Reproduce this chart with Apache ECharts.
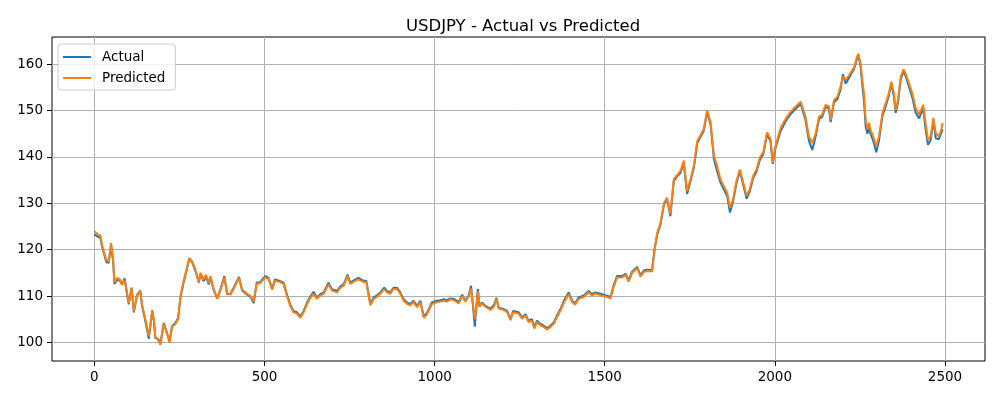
<!DOCTYPE html>
<html>
<head>
<meta charset="utf-8">
<script src="https://cdn.jsdelivr.net/npm/echarts@6/dist/echarts.min.js"></script>
<style>html,body{margin:0;padding:0;background:#fff}#c{width:1000px;height:400px}</style>
</head>
<body>
<div id="c"></div>
<script>
const steps = [0,10,18,22,35,42,49,55,59,67,76,81,89,96,101,109,116,125,135,140,150,160,170,175,179,189,194,204,214,221,228,238,246,253,263,273,279,287,297,307,312,321,328,336,341,351,361,371,382,390,400,410,425,434,449,459,468,477,487,502,512,522,531,546,556,566,576,585,595,605,615,625,634,644,654,664,674,688,698,713,723,733,744,752,767,776,791,799,811,821,830,840,852,860,870,879,889,899,909,919,928,938,948,958,968,977,992,1007,1017,1027,1036,1046,1056,1071,1081,1090,1100,1107,1113,1118,1123,1127,1132,1139,1149,1164,1174,1182,1188,1203,1213,1223,1231,1247,1257,1267,1276,1286,1293,1301,1311,1321,1330,1340,1350,1360,1370,1380,1394,1404,1413,1423,1438,1453,1462,1472,1487,1502,1517,1526,1536,1551,1561,1570,1580,1595,1605,1615,1625,1639,1646,1654,1664,1674,1683,1693,1703,1715,1723,1732,1742,1752,1762,1772,1781,1791,1801,1811,1821,1830,1840,1850,1860,1868,1877,1887,1897,1907,1917,1926,1936,1946,1956,1966,1977,1987,1994,2002,2017,2027,2036,2046,2056,2066,2076,2081,2090,2100,2110,2120,2130,2139,2149,2159,2164,2174,2184,2193,2200,2208,2218,2225,2233,2240,2245,2252,2257,2262,2267,2272,2277,2281,2289,2298,2306,2316,2326,2335,2342,2350,2355,2362,2370,2378,2384,2394,2404,2414,2424,2436,2443,2450,2458,2466,2473,2482,2489,2493];

const predicted = [124.0,123.3,123.0,121.0,117.8,117.5,121.4,117.8,113.0,113.9,113.5,112.4,113.5,110.6,108.5,111.7,106.7,110.0,111.0,108.1,104.9,101.3,107.0,104.9,101.3,100.3,99.5,104.0,102.0,99.9,103.3,104.0,105.0,110.0,113.5,116.4,118.2,117.5,115.7,112.8,115.0,113.5,114.6,112.8,114.3,111.4,109.4,111.4,114.0,110.6,110.3,111.7,113.9,111.4,110.5,110.0,108.8,112.6,112.8,114.0,113.7,111.4,113.3,113.0,112.6,110.0,107.8,106.5,106.2,105.3,106.5,108.3,109.5,110.5,109.4,110.1,110.5,112.5,111.2,110.8,111.8,112.3,114.3,112.6,113.3,113.6,113.0,113.0,108.0,109.4,109.8,110.5,111.5,110.8,110.5,111.5,111.5,110.5,109.0,108.3,108.0,108.7,107.6,108.7,105.3,106.0,108.3,108.7,108.8,109.0,108.8,109.3,109.1,108.4,110.0,108.8,109.9,111.6,108.0,105.0,107.7,111.0,107.9,108.4,107.7,107.0,107.7,109.3,107.3,107.0,106.5,104.8,106.5,106.2,105.1,105.8,104.4,104.7,103.0,104.4,103.7,103.3,102.8,103.3,104.0,105.5,106.9,108.6,110.4,108.7,108.1,109.4,109.8,110.8,110.1,110.5,110.2,109.9,109.5,112.0,114.0,114.0,114.5,113.1,114.9,116.0,114.2,115.2,115.4,115.3,119.5,123.6,125.8,130.0,131.2,127.6,135.2,136.3,137.0,139.2,132.6,135.2,138.1,143.5,144.6,146.0,150.0,147.5,140.2,138.1,135.2,133.7,132.3,129.0,130.8,134.8,137.3,134.5,131.6,133.0,135.9,137.3,139.9,141.0,145.3,143.9,138.8,142.4,146.3,147.6,148.7,149.7,150.5,151.2,151.9,151.6,148.7,144.4,143.0,145.1,148.7,149.1,151.2,150.9,148.0,152.3,153.0,155.1,157.3,156.6,157.6,158.4,159.4,161.2,162.3,160.1,156.6,153.7,148.0,145.9,147.3,145.9,144.4,142.3,144.4,149.4,151.6,153.7,156.2,153.7,150.1,152.3,157.3,158.9,158.0,155.9,153.7,150.5,149.1,151.2,147.3,143.7,144.4,148.4,145.1,144.4,145.9,147.3];

const actual = [123.3,122.8,122.5,120.8,117.3,117.2,120.9,117.5,112.6,113.5,113.3,112.5,113.8,110.3,108.2,111.8,106.5,110.2,111.2,107.9,104.5,100.8,106.8,104.5,101.0,100.6,99.8,104.2,101.8,100.2,103.5,104.2,105.3,109.7,113.2,116.2,118.0,117.3,115.4,113.0,114.7,113.2,114.2,112.5,114.0,111.2,109.5,111.6,114.3,110.4,110.5,111.9,114.1,111.2,110.3,109.8,108.5,112.9,113.0,114.3,113.9,111.6,113.6,113.2,112.9,110.3,108.1,106.8,106.5,105.6,106.8,108.6,109.8,110.9,109.7,110.4,110.8,112.9,111.5,111.1,112.1,112.6,114.6,112.9,113.6,113.9,113.3,113.3,108.3,109.7,110.1,110.8,111.8,111.1,110.8,111.8,111.8,110.8,109.3,108.6,108.3,109.0,107.9,109.0,105.6,106.3,108.6,109.0,109.1,109.3,109.1,109.5,109.4,108.7,110.3,109.0,110.1,112.2,107.7,103.4,108.0,111.5,107.7,108.6,107.9,107.3,108.0,109.6,107.5,107.2,106.8,105.0,106.8,106.5,105.4,106.1,104.7,105.0,103.3,104.7,104.0,103.6,103.1,103.6,104.3,105.8,107.2,109.0,110.8,109.0,108.4,109.7,110.1,111.1,110.4,110.8,110.5,110.2,109.8,112.3,114.3,114.3,114.8,113.4,115.2,116.3,114.5,115.5,115.7,115.6,120.0,123.2,125.5,129.7,131.0,127.2,134.8,136.0,136.6,138.8,132.0,134.8,137.7,143.0,144.3,145.6,149.7,147.0,139.5,137.0,134.5,133.0,131.5,128.0,130.3,134.3,136.9,134.0,131.0,132.5,135.4,136.8,139.4,140.6,144.8,143.4,138.5,142.0,145.6,147.0,148.2,149.2,150.0,150.7,151.4,151.2,148.0,143.5,141.5,144.5,148.2,148.6,150.8,150.4,147.5,151.8,152.5,154.5,157.8,155.8,157.0,158.0,159.0,160.8,162.0,159.5,155.5,152.0,146.5,145.0,146.5,145.0,143.5,141.0,143.5,148.8,151.0,153.2,155.8,153.0,149.5,151.8,156.8,158.5,157.5,155.2,152.8,149.5,148.3,150.5,146.0,142.6,143.6,147.8,144.0,143.8,145.2,146.0];

const xTicks = [0, 500, 1000, 1500, 2000, 2500];
const yTicks = [100, 110, 120, 130, 140, 150, 160];

const chart = echarts.init(document.getElementById('c'), null, {renderer: 'canvas'});
const font = 'DejaVu Sans';
chart.setOption({
  animation: false,
  backgroundColor: '#ffffff',
  title: {
    text: 'USDJPY - Actual vs Predicted',
    left: 518, top: 13, textAlign: 'center',
    textStyle: {fontFamily: font, fontSize: 16.5, fontWeight: 'normal', color: '#000'}
  },
  legend: {
    orient: 'vertical', left: 58, top: 44,
    padding: [6, 10, 5, 5], itemGap: 7, itemWidth: 28, itemHeight: 2, icon: 'rect',
    borderColor: '#cccccc', borderWidth: 1, borderRadius: 3, backgroundColor: 'rgba(255,255,255,0.8)',
    textStyle: {fontFamily: font, fontSize: 13.5, lineHeight: 14, color: '#000', padding: [0, 0, 0, 6]},
    data: ['Actual', 'Predicted']
  },
  grid: {left: 52, right: 15, top: 37, bottom: 39, show: true, borderColor: '#000', borderWidth: 1, backgroundColor: 'transparent'},
  xAxis: {
    type: 'value', min: -124.65, max: 2617.65,
    axisLine: {show: false, onZero: false},
    axisTick: {show: true, length: 5, lineStyle: {color: '#000'}, customValues: xTicks},
    axisLabel: {customValues: xTicks, margin: 9, fontFamily: font, fontSize: 13.5, color: '#000', formatter: v => String(v)},
    splitLine: {show: true, lineStyle: {color: '#b0b0b0', width: 1}}
  },
  yAxis: {
    type: 'value', min: 96.0, max: 165.85,
    axisLine: {show: false, onZero: false},
    axisTick: {show: true, length: 5, lineStyle: {color: '#000'}, customValues: yTicks},
    axisLabel: {customValues: yTicks, margin: 9, fontFamily: font, fontSize: 13.5, color: '#000', formatter: v => String(v)},
    splitLine: {show: true, lineStyle: {color: '#b0b0b0', width: 1}}
  },
  series: [
    {name: 'Actual', type: 'line', symbol: 'none', data: steps.map((s, i) => [s, actual[i]]),
     lineStyle: {color: '#1f77b4', width: 2}, itemStyle: {color: '#1f77b4'}},
    {name: 'Predicted', type: 'line', symbol: 'none', data: steps.map((s, i) => [s, predicted[i]]),
     lineStyle: {color: '#ff7f0e', width: 2}, itemStyle: {color: '#ff7f0e'}}
  ]
});
</script>
</body>
</html>
